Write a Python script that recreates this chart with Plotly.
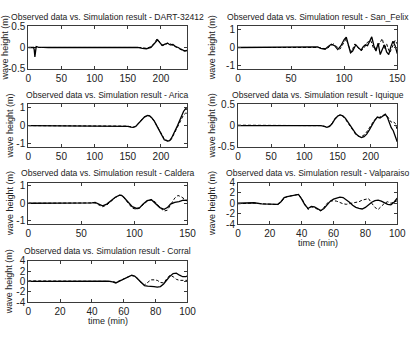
import plotly.graph_objects as go

W, H = 414, 339
FONT = "Liberation Sans, Arial, sans-serif"

# ---------------- data ----------------
titles = ["DART-32412", "San_Felix", "Arica", "Iquique", "Caldera", "Valparaiso", "Corral"]

dart_t_obs = [0, 5, 8, 9, 10, 11, 12, 15, 30, 60, 100, 140, 165, 172, 178, 185, 190, 195, 198, 202, 206, 210, 214, 218, 222, 226, 230, 234, 238, 240]
dart_obs = [0, 0, 0, -0.05, -0.22, -0.1, 0.02, 0.01, 0, 0, 0, 0, 0, -0.02, -0.03, 0.0, 0.08, 0.18, 0.12, 0.05, 0.08, 0.1, 0.06, 0.07, 0.02, 0.0, -0.04, -0.07, -0.08, -0.06]
dart_t_sim = [0, 50, 100, 150, 170, 178, 185, 190, 194, 197, 200, 205, 210, 215, 220, 225, 230, 235, 240]
dart_sim = [0, 0, 0, 0, 0, -0.02, 0.02, 0.1, 0.2, 0.15, 0.06, 0.05, 0.1, 0.08, 0.04, 0, -0.05, -0.09, -0.07]

sanfelix_t_obs = [0, 20, 40, 60, 70, 75, 78, 82, 85, 88, 91, 94, 97, 100, 102, 104, 106, 108, 111, 114, 116, 118, 120, 122, 124, 126, 128, 130, 132, 134, 136, 138, 140, 142, 144, 146, 148, 150]
sanfelix_obs = [0, 0, 0, 0, 0.02, 0.03, -0.05, -0.1, 0.05, 0.18, 0.1, -0.12, 0.1, 0.45, 0.58, 0.2, -0.3, -0.2, 0.15, -0.05, -0.15, 0.05, 0.15, 0.1, 0.35, 0.6, 0.1, -0.2, 0.25, -0.4, -0.1, 0.15, -0.25, -0.4, 0.05, 0.35, 0.1, -0.35]
sanfelix_t_sim = [0, 20, 40, 60, 70, 76, 80, 84, 87, 90, 93, 96, 99, 102, 104, 107, 110, 113, 116, 119, 122, 125, 128, 131, 134, 136, 138, 140, 143, 146, 148, 150]
sanfelix_sim = [0, 0, 0, 0, 0, 0, -0.05, -0.08, 0.1, 0.2, 0.05, -0.1, 0.2, 0.5, 0.1, -0.25, 0.2, 0.0, -0.2, 0.0, 0.3, 0.4, -0.1, 0.0, 0.3, 0.5, -0.1, 0.2, -0.3, 0.1, 0.4, 0.2]

arica_t = [0, 50, 100, 140, 150, 155, 158, 162, 166, 170, 175, 180, 183, 186, 190, 195, 200, 205, 210, 213, 216, 220, 225, 230, 234, 237, 240]
arica_obs = [0, -0.02, -0.02, -0.02, -0.04, -0.08, -0.1, -0.05, 0.1, 0.3, 0.48, 0.57, 0.55, 0.45, 0.25, -0.1, -0.5, -0.8, -0.88, -0.85, -0.7, -0.4, 0.0, 0.45, 0.8, 0.95, 0.93]
arica_sim = [0, 0, 0, -0.01, -0.03, -0.07, -0.09, -0.04, 0.12, 0.32, 0.5, 0.57, 0.54, 0.44, 0.25, -0.08, -0.45, -0.75, -0.86, -0.88, -0.75, -0.45, -0.05, 0.35, 0.6, 0.7, 0.7]

iquique_t = [0, 40, 80, 110, 125, 130, 134, 138, 142, 146, 150, 154, 158, 162, 166, 170, 174, 178, 182, 186, 190, 194, 198, 202, 206, 210, 214, 218, 222, 225, 228, 231, 234, 237, 240]
iquique_obs = [0, 0, -0.01, 0, 0, -0.02, -0.04, -0.02, 0.05, 0.15, 0.22, 0.25, 0.23, 0.17, 0.08, -0.02, -0.12, -0.2, -0.25, -0.28, -0.26, -0.2, -0.1, 0.02, 0.12, 0.2, 0.18, 0.22, 0.27, 0.2, 0.05, -0.05, -0.12, -0.25, -0.38]
iquique_sim = [0.01, 0, 0, 0, 0, -0.02, -0.03, -0.01, 0.06, 0.16, 0.23, 0.25, 0.22, 0.15, 0.05, -0.05, -0.15, -0.22, -0.25, -0.26, -0.22, -0.15, -0.05, 0.05, 0.14, 0.18, 0.2, 0.24, 0.25, 0.22, 0.15, 0.08, 0.1, 0.05, -0.1]

caldera_t_obs = [0, 20, 40, 55, 60, 63, 66, 70, 74, 78, 82, 86, 88, 90, 94, 98, 102, 105, 108, 112, 116, 120, 124, 128, 131, 134, 138, 142, 146, 150]
caldera_obs = [0, 0, 0, 0, 0.02, 0.05, -0.05, -0.15, -0.05, 0.15, 0.35, 0.47, 0.45, 0.35, 0.05, -0.2, -0.3, -0.25, -0.05, 0.15, 0.2, 0.0, -0.25, -0.35, -0.25, -0.05, 0.05, 0.1, 0.18, 0.15]
caldera_t_sim = [0, 20, 40, 55, 60, 63, 66, 70, 74, 78, 82, 86, 88, 90, 94, 98, 102, 105, 108, 112, 116, 120, 124, 128, 131, 134, 138, 141, 144, 147, 150]
caldera_sim = [0, 0, 0, -0.01, 0, 0.02, -0.08, -0.2, -0.1, 0.12, 0.33, 0.46, 0.45, 0.33, 0.0, -0.28, -0.35, -0.28, -0.1, 0.12, 0.22, 0.05, -0.25, -0.45, -0.4, -0.1, 0.3, 0.45, 0.38, 0.25, 0.15]

valpa_t = [0, 5, 10, 15, 20, 25, 27, 29, 31, 33, 35, 37, 38, 40, 42, 44, 46, 48, 50, 52, 54, 56, 58, 60, 62, 64, 66, 68, 70, 72, 74, 76, 78, 80, 82, 84, 86, 88, 90, 92, 94, 96, 98, 100]
valpa_obs = [0, 0, 0.1, -0.1, -0.2, -0.2, 0.3, 1.1, 1.3, 1.4, 1.5, 1.65, 1.7, 0.8, -0.3, -1.0, -0.6, -0.7, -1.1, -1.4, -1.0, -0.3, 0.4, 0.8, 1.0, 1.2, 1.1, 0.7, 0.2, -0.4, -0.8, -1.0, -1.1, -0.8, -0.3, 0.2, 0.5, 0.6, 0.4, 0.1, -0.2, -0.3, 0.2, 1.0]
valpa_sim = [-0.1, 0, 0.05, -0.1, -0.2, -0.25, 0.2, 1.0, 1.3, 1.4, 1.5, 1.6, 1.7, 0.9, -0.2, -1.2, -0.7, -0.8, -1.2, -1.5, -0.8, 0.0, 0.4, 0.5, 0.4, 0.1, -0.1, -0.2, -0.1, 0.1, 0.2, 0.3, 0.6, 0.8, 0.9, 0.0, -0.8, -1.2, -0.5, 0.0, 0.3, 0.0, 0.2, 0.5]

corral_t = [0, 10, 20, 30, 40, 50, 53, 55, 57, 59, 61, 63, 65, 67, 69, 71, 73, 75, 77, 79, 81, 83, 85, 87, 89, 91, 93, 95, 97, 99, 100]
corral_obs = [0, 0, 0, 0, 0, 0.05, -0.1, -0.3, 0.0, 0.3, 0.6, 0.9, 1.2, 1.0, 0.4, -0.3, -0.8, -0.9, -0.9, -1.0, -1.1, -1.0, -0.5, 0.3, 1.0, 1.5, 1.6, 1.2, 0.9, 0.9, 1.1]
corral_sim = [0.1, 0.1, 0.1, 0.1, 0.1, 0.1, 0.0, -0.2, 0.1, 0.4, 0.7, 0.9, 1.1, 1.0, 0.5, -0.3, -0.7, -0.2, 0.3, 0.3, 0.2, -0.2, -0.3, 0.5, 1.2, 0.9, 0.4, 0.2, 0.2, 0.2, 0.2]

x_ranges = [[0, 240], [0, 150], [0, 240], [0, 240], [0, 150], [0, 100], [0, 100]]
x_ticks = [[0, 50, 100, 150, 200], [0, 50, 100, 150], [0, 50, 100, 150, 200], [0, 50, 100, 150, 200],
           [0, 50, 100, 150], [0, 20, 40, 60, 80, 100], [0, 20, 40, 60, 80, 100]]
y_ranges = [[-0.5, 0.5], [-1.2, 1.2], [-1.2, 1.2], [-0.5, 0.5], [-1.2, 1.2], [-4, 4], [-4, 4]]
y_ticks = [[-0.5, 0, 0.5], [-1, 0, 1], [-1, 0, 1], [-0.5, 0, 0.5], [-1, 0, 1], [-4, -2, 0, 2, 4], [-4, -2, 0, 2, 4]]
y_ticktext = [["-0.5", "0", "0.5"], ["-1", "0", "1"], ["-1", "0", "1"], ["-0.5", "0", "0.5"], ["-1", "0", "1"],
              ["-4", "-2", "0", "2", "4"], ["-4", "-2", "0", "2", "4"]]

obs_series = [(dart_t_obs, dart_obs), (sanfelix_t_obs, sanfelix_obs), (arica_t, arica_obs), (iquique_t, iquique_obs),
              (caldera_t_obs, caldera_obs), (valpa_t, valpa_obs), (corral_t, corral_obs)]
sim_series = [(dart_t_sim, dart_sim), (sanfelix_t_sim, sanfelix_sim), (arica_t, arica_sim), (iquique_t, iquique_sim),
              (caldera_t_sim, caldera_sim), (valpa_t, valpa_sim), (corral_t, corral_sim)]

# ---------------- layout geometry (pixels) ----------------
cols = [(26, 190), (242, 406)]
rows = [(21, 65), (102, 146), (183, 226), (264, 307)]
pos = [(0, 0), (0, 1), (1, 0), (1, 1), (2, 0), (2, 1), (3, 0)]
ylabel_x = {(0, 0): 3, (0, 1): 216, (1, 0): 7, (1, 1): 215, (2, 0): 7, (2, 1): 215, (3, 0): 7}

fig = go.Figure()
layout = dict(width=W, height=H, margin=dict(l=0, r=0, t=0, b=0),
              paper_bgcolor="white", plot_bgcolor="white", showlegend=False,
              font=dict(family=FONT, color="#222"))
annotations = []
axcol = "#3a3a3a"

for i in range(7):
    n = i + 1
    xs = "" if n == 1 else str(n)
    r, c = pos[i]
    x0, x1 = cols[c]
    y0, y1 = rows[r]
    t_o, v_o = obs_series[i]
    t_s, v_s = sim_series[i]
    fig.add_trace(go.Scatter(x=t_s, y=v_s, mode="lines", xaxis="x" + xs, yaxis="y" + xs,
                             line=dict(color="black", width=1, dash="3px,2px"), hoverinfo="skip"))
    fig.add_trace(go.Scatter(x=t_o, y=v_o, mode="lines", xaxis="x" + xs, yaxis="y" + xs,
                             line=dict(color="black", width=1.3), hoverinfo="skip"))
    common = dict(showline=True, linecolor=axcol, linewidth=1, mirror="allticks", ticks="inside",
                  ticklen=3, tickcolor=axcol, showgrid=False, zeroline=False,
                  tickfont=dict(family=FONT, size=10, color="#222"))
    layout["xaxis" + xs] = dict(domain=[x0 / W, x1 / W], range=x_ranges[i], tickvals=x_ticks[i],
                                anchor="y" + xs, **common)
    layout["yaxis" + xs] = dict(domain=[1 - y1 / H, 1 - y0 / H], range=y_ranges[i], tickvals=y_ticks[i],
                                ticktext=y_ticktext[i], anchor="x" + xs, **common)
    annotations.append(dict(text="Observed data vs. Simulation result - " + titles[i],
                            x=(x0 + x1) / 2 / W, y=1 - (y0 - 9.5) / H, xref="paper", yref="paper",
                            xanchor="center", yanchor="middle", showarrow=False,
                            font=dict(family=FONT, size=8.6, color="#222")))
    annotations.append(dict(text="wave height (m)", textangle=-90,
                            x=ylabel_x[(r, c)] / W, y=1 - (y0 + y1) / 2 / H, xref="paper", yref="paper",
                            xanchor="center", yanchor="middle", showarrow=False,
                            font=dict(family=FONT, size=9, color="#222")))
    if n in (6, 7):
        annotations.append(dict(text="time (min)", x=(x0 + x1) / 2 / W, y=1 - (y1 + 19.5) / H,
                                xref="paper", yref="paper", xanchor="center", yanchor="middle",
                                showarrow=False, font=dict(family=FONT, size=9, color="#222")))

layout["annotations"] = annotations
fig.update_layout(**layout)
fig.write_html("out.html")
